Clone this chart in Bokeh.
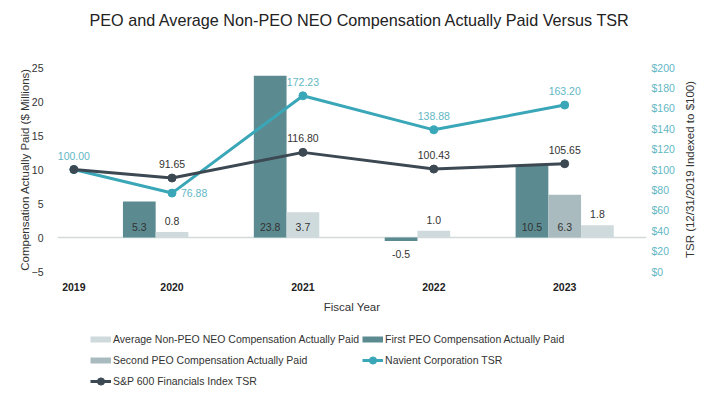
import math
from bokeh.plotting import figure
from bokeh.layouts import column, row
from bokeh.models import (ColumnDataSource, Range1d, LinearAxis, FixedTicker, Span,
                          Legend, LegendItem, NumeralTickFormatter)
from bokeh.core.properties import value
from bokeh.embed import file_html
from bokeh.resources import INLINE

# ---------------- data ----------------
years = ["2019", "2020", "2021", "2022", "2023"]
first_peo = [None, 5.3, 23.8, -0.5, 10.5]
second_peo = [None, None, None, None, 6.3]
avg_neo = [None, 0.8, 3.7, 1.0, 1.8]
navient_tsr = [100.00, 76.88, 172.23, 138.88, 163.20]
sp600_tsr = [100.00, 91.65, 116.80, 100.43, 105.65]

comp_ticks = [-5, 0, 5, 10, 15, 20, 25]
tsr_ticks = [0, 20, 40, 60, 80, 100, 120, 140, 160, 180, 200]

NAME_AVG = "Average Non-PEO NEO Compensation Actually Paid"
NAME_FIRST = "First PEO Compensation Actually Paid"
NAME_SECOND = "Second PEO Compensation Actually Paid"
NAME_NAV = "Navient Corporation TSR"
NAME_SP = "S&P 600 Financials Index TSR"

# ---------------- style ----------------
FONT = "Liberation Sans"
C_FIRST = "#5b8b90"
C_SECOND = "#a9bbbf"
C_AVG = "#cfdadd"
C_NAV = "#3aa7b8"
C_NAV_TXT = "#62b7c4"
C_SP = "#3c4852"
C_TXT = "#333333"

bar_series = [(NAME_FIRST, first_peo, C_FIRST),
              (NAME_SECOND, second_peo, C_SECOND),
              (NAME_AVG, avg_neo, C_AVG)]

# ---------------- layout of category slots ----------------
SLOTS, GAP = 3, 1
centers = []
pos = 0.0
for i in range(len(years)):
    has_bars = any(s[1][i] is not None for s in bar_series)
    n = SLOTS if has_bars else 1
    centers.append(pos + n / 2)
    pos += n + GAP
x_end = pos

# ---------------- title strip ----------------
pt = figure(width=704, height=30, output_backend="svg", toolbar_location=None,
            x_axis_location=None, y_axis_location=None,
            min_border_left=57, min_border_right=0, min_border_top=28, min_border_bottom=0,
            title="PEO and Average Non-PEO NEO Compensation Actually Paid Versus TSR")
pt.title.align = "left"
pt.title.offset = 32
pt.title.standoff = 0
pt.title.text_font = FONT
pt.title.text_font_size = "16.2px"
pt.title.text_font_style = "normal"
pt.title.text_color = "#222222"
pt.grid.visible = False
pt.outline_line_color = None

# ---------------- main chart ----------------
p = figure(width=677, height=288, output_backend="svg", toolbar_location=None,
           x_range=Range1d(0, x_end), y_range=Range1d(comp_ticks[0], comp_ticks[-1]),
           min_border_left=57, min_border_right=30, min_border_top=37, min_border_bottom=47)
p.extra_y_ranges = {"tsr": Range1d(tsr_ticks[0], tsr_ticks[-1])}
p.outline_line_color = None
p.xgrid.visible = False
p.ygrid.visible = False
p.background_fill_color = "white"
p.border_fill_color = "white"

xa = p.below[0]
ya = p.left[0]

# zero line
p.add_layout(Span(location=0, dimension="width", line_color="#d3dadc", line_width=1.5, level="underlay"))

# ---------------- bars ----------------
slot_count = [0] * len(years)
lab_x, lab_y, lab_t, lab_o = [], [], [], []
for name, vals, color in bar_series:
    xs, tops = [], []
    for i, v in enumerate(vals):
        if v is None:
            continue
        x = centers[i] - (SLOTS - 1) / 2 + slot_count[i]
        slot_count[i] += 1
        xs.append(x)
        tops.append(v)
        lab_x.append(x)
        lab_t.append(f"{v:.1f}")
        if v >= 3:
            lab_y.append(0); lab_o.append(-11)
        elif v >= 0:
            lab_y.append(v); lab_o.append(-11)
        else:
            lab_y.append(v); lab_o.append(13)
    src = ColumnDataSource(dict(x=xs, top=tops))
    p.vbar(x="x", top="top", bottom=0, width=1, source=src, fill_color=color, line_color=None)

p.text(x="x", y="y", text="t", y_offset="o",
       source=ColumnDataSource(dict(x=lab_x, y=lab_y, t=lab_t, o=lab_o)),
       text_align="center", text_baseline="middle", text_font=value(FONT),
       text_font_size="10.5px", text_color=C_TXT)

# ---------------- lines ----------------
p.line(centers, navient_tsr, y_range_name="tsr", line_color=C_NAV, line_width=3)
p.scatter(centers, navient_tsr, y_range_name="tsr", size=8, fill_color=C_NAV, line_color=C_NAV)
p.line(centers, sp600_tsr, y_range_name="tsr", line_color=C_SP, line_width=3)
p.scatter(centers, sp600_tsr, y_range_name="tsr", size=8, fill_color=C_SP, line_color=C_SP)

nx, ny, nt, nox, noy, nal = [], [], [], [], [], []
for i, v in enumerate(navient_tsr):
    nx.append(centers[i]); ny.append(v); nt.append(f"{v:.2f}")
    if v < sp600_tsr[i]:
        nox.append(9); noy.append(0); nal.append("left")
    else:
        nox.append(0); noy.append(-14); nal.append("center")
p.text(x="x", y="y", text="t", x_offset="ox", y_offset="oy", text_align="al",
       source=ColumnDataSource(dict(x=nx, y=ny, t=nt, ox=nox, oy=noy, al=nal)),
       y_range_name="tsr", text_baseline="middle", text_font=value(FONT),
       text_font_size="10.5px", text_color=C_NAV_TXT)

sx, sy, st = [], [], []
for i, v in enumerate(sp600_tsr):
    if v == navient_tsr[i]:
        continue
    sx.append(centers[i]); sy.append(v); st.append(f"{v:.2f}")
p.text(x="x", y="y", text="t", y_offset=-14,
       source=ColumnDataSource(dict(x=sx, y=sy, t=st)),
       y_range_name="tsr", text_align="center", text_baseline="middle", text_font=value(FONT),
       text_font_size="10.5px", text_color=C_TXT)

# ---------------- axes ----------------
def style_axis(ax):
    ax.axis_line_color = None
    ax.major_tick_line_color = None
    ax.minor_tick_line_color = None
    ax.major_label_text_font = FONT
    ax.major_label_text_font_size = "10.5px"
    ax.axis_label_text_font = FONT
    ax.axis_label_text_font_size = "11.5px"
    ax.axis_label_text_font_style = "normal"
    ax.axis_label_text_color = C_TXT

style_axis(xa)
xa.ticker = FixedTicker(ticks=centers)
xa.major_label_overrides = {c: y for c, y in zip(centers, years)}
xa.major_label_text_font_style = "bold"
xa.major_label_text_color = "#222222"
xa.major_label_standoff = 5
xa.axis_label = "Fiscal Year"
xa.axis_label_standoff = 7

style_axis(ya)
ya.ticker = FixedTicker(ticks=comp_ticks)
ya.major_tick_out = 0
ya.major_tick_in = 0
ya.major_label_text_color = C_TXT
ya.major_label_standoff = 14
ya.axis_label = "Compensation Actually Paid ($ Millions)"
ya.axis_label_standoff = -2

ra = LinearAxis(y_range_name="tsr", ticker=FixedTicker(ticks=tsr_ticks),
                formatter=NumeralTickFormatter(format="$0"))
style_axis(ra)
ra.major_tick_out = 0
ra.major_tick_in = 0
ra.major_label_text_color = C_NAV_TXT
ra.major_label_standoff = 5
p.add_layout(ra, "right")

# right-hand axis title, reading bottom to top, in a narrow strip beside the chart
pr = figure(width=30, height=288, output_backend="svg", toolbar_location=None,
            x_axis_location=None, y_axis_location=None,
            min_border_left=18, min_border_right=0, min_border_top=37, min_border_bottom=47,
            title="TSR (12/31/2019 Indexed to $100)", title_location="left")
pr.title.align = "center"
pr.title.standoff = 0
pr.title.text_font = FONT
pr.title.text_font_size = "11.5px"
pr.title.text_font_style = "normal"
pr.title.text_color = C_TXT
pr.grid.visible = False
pr.outline_line_color = None

# ---------------- legend (own strip below the chart) ----------------
pl = figure(width=704, height=72, output_backend="svg", toolbar_location=None,
            x_axis_location=None, y_axis_location=None,
            min_border_left=57, min_border_right=0, min_border_top=0, min_border_bottom=0)
pl.grid.visible = False
pl.outline_line_color = None

nan = [float("nan")]
proxy = {}
for name, vals, color in bar_series:
    proxy[name] = pl.line(x=nan, y=nan, line_color=color, line_width=6)
nav_l = pl.line(x=nan, y=nan, line_color=C_NAV, line_width=3)
nav_s = pl.scatter(x=nan, y=nan, size=8, fill_color=C_NAV, line_color=C_NAV)
sp_l = pl.line(x=nan, y=nan, line_color=C_SP, line_width=3)
sp_s = pl.scatter(x=nan, y=nan, size=8, fill_color=C_SP, line_color=C_SP)

# legend fills column by column: column 1 then column 2
items = [
    LegendItem(label=NAME_AVG, renderers=[proxy[NAME_AVG]]),
    LegendItem(label=NAME_SECOND, renderers=[proxy[NAME_SECOND]]),
    LegendItem(label=NAME_SP, renderers=[sp_l, sp_s]),
    LegendItem(label=NAME_FIRST, renderers=[proxy[NAME_FIRST]]),
    LegendItem(label=NAME_NAV, renderers=[nav_l, nav_s]),
]
leg = Legend(items=items, location=(33, 0), ncols=2,
             glyph_width=21, glyph_height=18, label_height=18, spacing=3,
             label_standoff=2, padding=0, margin=0,
             label_text_font=FONT, label_text_font_size="10.5px", label_text_color=C_TXT,
             border_line_color=None, background_fill_alpha=0)
pl.add_layout(leg)

layout = column(pt, row(p, pr, spacing=0), pl, spacing=0)
open("out.html", "w").write(file_html(layout, INLINE))
